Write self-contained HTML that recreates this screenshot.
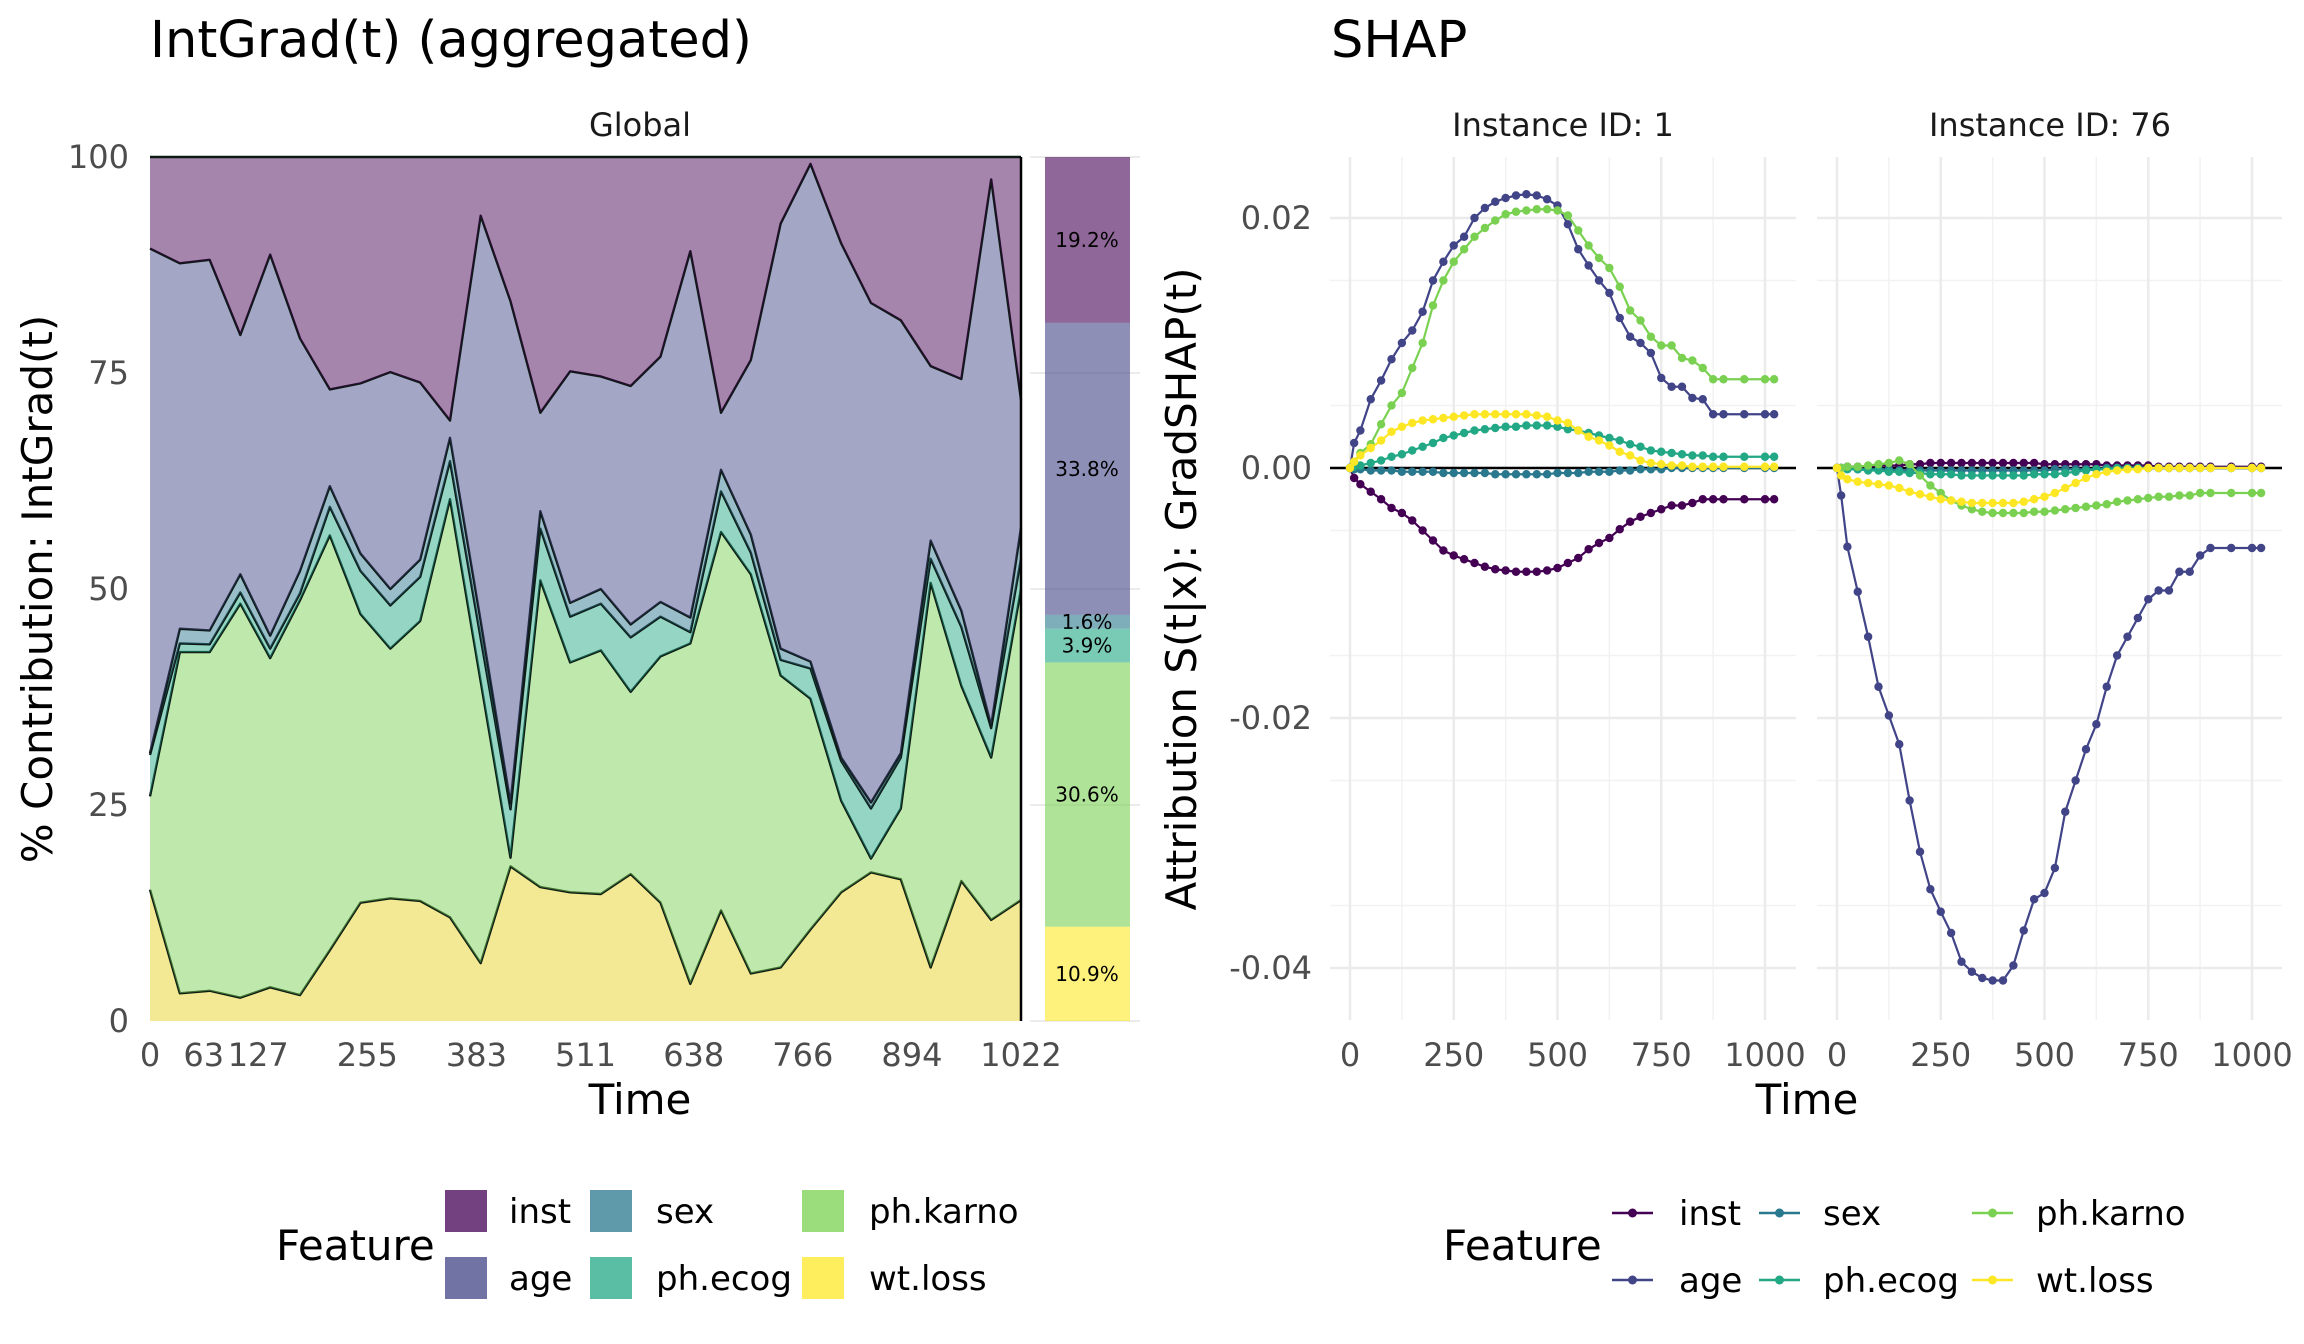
<!DOCTYPE html>
<html><head><meta charset="utf-8"><style>
html,body{margin:0;padding:0;background:#fff;}
svg{display:block;font-family:"DejaVu Sans","Liberation Sans",sans-serif;}
</style></head><body>
<svg id="chart" width="2304" height="1344" viewBox="0 0 2304 1344" xmlns="http://www.w3.org/2000/svg">
<text x="150" y="57" font-size="51" fill="#000">IntGrad(t) (aggregated)</text>
<text x="1331" y="57" font-size="51" fill="#000">SHAP</text>
<text x="640" y="136" font-size="32" text-anchor="middle" fill="#1a1a1a">Global</text>
<text x="1563" y="136" font-size="32" text-anchor="middle" fill="#1a1a1a">Instance ID: 1</text>
<text x="2050" y="136" font-size="32" text-anchor="middle" fill="#1a1a1a">Instance ID: 76</text>
<text transform="translate(52,589) rotate(-90)" font-size="42" text-anchor="middle" fill="#000">% Contribution: IntGrad(t)</text>
<text transform="translate(1196,589) rotate(-90)" font-size="42" text-anchor="middle" fill="#000">Attribution S(t|x): GradSHAP(t)</text>
<text x="640" y="1114" font-size="42" text-anchor="middle" fill="#000">Time</text>
<text x="1807" y="1114" font-size="42" text-anchor="middle" fill="#000">Time</text>
<g id="left"></g><g id="side"></g><g id="p1"></g><g id="p2"></g><g id="legend"></g>
</svg>
<script>
const NS="http://www.w3.org/2000/svg";
const features=["inst","age","sex","ph.ecog","ph.karno","wt.loss"];
const colors=["#440154","#414487","#2A788E","#22A884","#7AD151","#FDE725"];
// IntGrad stacked data (percent), 30 time points
const igTimes=[0,35,70,106,141,176,211,247,282,317,352,388,423,458,493,529,564,599,634,670,705,740,775,811,846,881,916,952,987,1022];
const igInst=[10.6,12.3,11.9,20.6,11.3,21.0,26.9,26.2,24.9,26.1,30.5,6.8,16.7,29.6,24.8,25.4,26.5,23.1,10.9,29.6,23.5,7.7,0.8,10.0,16.9,18.9,24.2,25.7,2.6,28.1];
const igAge=[58.4,42.3,42.9,27.7,44.1,26.9,11.2,19.7,25.1,20.5,2.0,46.9,58.1,11.4,26.8,24.6,27.6,28.4,42.4,6.6,20.2,49.2,57.6,59.5,57.8,50.1,20.2,26.8,63.2,14.8];
const igSex=[0.2,1.7,1.6,2.1,1.5,2.6,2.4,2.0,1.9,2.0,2.7,2.0,0.7,2.0,1.6,1.7,1.5,1.7,1.7,2.5,2.1,1.3,0.8,0.4,0.7,0.5,2.1,1.9,0.3,3.6];
const igEcog=[4.8,1.0,0.9,1.3,1.1,0.8,3.3,5.0,5.0,5.1,4.4,5.0,5.6,6.0,5.3,5.4,6.3,4.6,1.3,4.7,2.5,1.8,3.5,4.6,5.8,5.9,2.8,6.8,3.4,3.5];
const igKarno=[10.8,39.5,39.2,45.6,38.1,45.7,48.0,33.4,28.9,32.4,48.4,32.6,1.0,35.5,26.6,28.2,21.1,28.5,39.4,43.8,46.2,33.8,26.7,10.6,1.6,8.2,44.5,22.6,18.8,36.0];
const igWt=[15.2,3.2,3.5,2.7,3.9,3.0,8.2,13.7,14.2,13.9,12.0,6.7,17.9,15.5,14.9,14.7,17.0,13.7,4.3,12.8,5.5,6.2,10.6,14.9,17.2,16.4,6.2,16.2,11.7,14.0];
const igTicks=[0,63,127,255,383,511,638,766,894,1022];
const yTicksL=[0,25,50,75,100];
const sideVals=[19.2,33.8,1.6,3.9,30.6,10.9];
const sideLabels=["19.2%","33.8%","1.6%","3.9%","30.6%","10.9%"];
// SHAP data (values x 1e-3)
const shapTimes=[0,10,25,50,75,100,125,150,175,200,225,250,275,300,325,350,375,400,425,450,475,500,525,550,575,600,625,650,675,700,725,750,775,800,825,850,875,900,950,1000,1022];
const inst1=[0,-0.8,-1.3,-1.9,-2.5,-3.2,-3.6,-4.2,-5.0,-5.8,-6.6,-7.0,-7.3,-7.6,-7.9,-8.1,-8.2,-8.3,-8.3,-8.3,-8.2,-8.0,-7.6,-7.2,-6.5,-6.0,-5.6,-4.9,-4.3,-3.9,-3.6,-3.3,-3.0,-3.0,-2.8,-2.5,-2.5,-2.5,-2.5,-2.5,-2.5];
const age1=[0,2,3,5.5,7,8.7,10,11,12.5,15,16.5,17.8,18.5,20,20.8,21.3,21.6,21.8,21.9,21.8,21.5,21,19.5,17.5,16.2,15,14,12,10.5,10,9.2,7.2,6.5,6.5,5.6,5.5,4.3,4.3,4.3,4.3,4.3];
const sex1=[0,-0.1,-0.1,-0.2,-0.2,-0.2,-0.3,-0.3,-0.3,-0.3,-0.4,-0.4,-0.4,-0.4,-0.4,-0.5,-0.5,-0.5,-0.5,-0.5,-0.5,-0.4,-0.4,-0.4,-0.3,-0.3,-0.3,-0.2,-0.2,-0.1,-0.1,-0.1,0,0,0,0,0,0,0,0,0];
const ecog1=[0,0.1,0.2,0.4,0.6,0.9,1.1,1.4,1.7,2.0,2.4,2.6,2.8,3.0,3.1,3.2,3.3,3.3,3.4,3.4,3.4,3.3,3.1,3.0,2.8,2.6,2.4,2.2,1.9,1.7,1.4,1.3,1.2,1.1,1.0,1.0,0.9,0.9,0.9,0.9,0.9];
const karno1=[0,0.5,1.2,1.9,3.5,5,6,8,10,13,15,16.5,17.5,18.5,19.2,19.8,20.3,20.5,20.6,20.7,20.7,20.6,20.2,19,17.8,16.8,16,14.5,12.6,11.8,10.5,9.8,9.8,8.8,8.6,8,7.1,7.1,7.1,7.1,7.1];
const wt1=[0,0.5,1,1.6,2.2,2.9,3.3,3.6,3.8,3.9,4,4.1,4.2,4.3,4.3,4.3,4.3,4.3,4.3,4.2,4.1,3.8,3.6,3.0,2.5,2.2,1.8,1.3,1.0,0.6,0.4,0.3,0.2,0.2,0.1,0.1,0.1,0.1,0.1,0.1,0.1];
const inst76=[0,0,0.1,0.1,0.1,0.2,0.2,0.2,0.3,0.3,0.4,0.4,0.4,0.4,0.4,0.4,0.4,0.4,0.4,0.4,0.4,0.3,0.3,0.3,0.3,0.3,0.3,0.2,0.2,0.2,0.2,0.2,0.1,0.1,0.1,0.1,0.1,0.1,0.1,0.1,0.1];
const age76=[0,-2.2,-6.3,-9.9,-13.5,-17.5,-19.8,-22.1,-26.6,-30.7,-33.7,-35.5,-37.2,-39.5,-40.3,-40.8,-41.0,-41.0,-39.8,-37,-34.5,-34,-32,-27.5,-25,-22.5,-20.5,-17.5,-15,-13.5,-12,-10.5,-9.8,-9.8,-8.3,-8.3,-7,-6.4,-6.4,-6.4,-6.4];
const sex76=[0,0,0,-0.1,-0.1,-0.1,-0.1,-0.2,-0.2,-0.2,-0.2,-0.2,-0.2,-0.2,-0.2,-0.2,-0.2,-0.2,-0.2,-0.2,-0.2,-0.2,-0.1,-0.1,-0.1,-0.1,-0.1,0,0,0,0,0,0,0,0,0,0,0,0,0,0];
const ecog76=[0,0,-0.1,-0.1,-0.2,-0.2,-0.3,-0.3,-0.4,-0.4,-0.5,-0.5,-0.5,-0.6,-0.6,-0.6,-0.6,-0.6,-0.6,-0.6,-0.5,-0.5,-0.5,-0.4,-0.3,-0.2,-0.1,-0.1,0,0,0,0,0,0,0,0,0,0,0,0,0];
const karno76=[0,0,0.1,0.1,0.2,0.3,0.4,0.6,0.3,-0.6,-1.4,-2.0,-2.6,-3.0,-3.3,-3.5,-3.6,-3.6,-3.6,-3.6,-3.5,-3.5,-3.4,-3.3,-3.2,-3.1,-3.0,-2.9,-2.7,-2.6,-2.5,-2.4,-2.3,-2.3,-2.2,-2.2,-2.0,-2.0,-2.0,-2.0,-2.0];
const wt76=[0,-0.6,-0.9,-1.1,-1.2,-1.3,-1.4,-1.6,-1.9,-2.1,-2.3,-2.5,-2.6,-2.7,-2.8,-2.8,-2.8,-2.8,-2.8,-2.7,-2.5,-2.3,-2.0,-1.6,-1.2,-0.8,-0.5,-0.3,-0.2,-0.1,-0.1,0,0,0,0,0,0,0,0,0,0];
const shapXTicks=[0,250,500,750,1000];
const shapYTicks=[0.02,0,-0.02,-0.04];
const shapYLabels=["0.02","0.00","-0.02","-0.04"];

function mk(tag,attrs,parent){const e=document.createElementNS(NS,tag);for(const k in attrs)e.setAttribute(k,attrs[k]);parent.appendChild(e);return e;}

// ---- Left stacked area ----
const L={x0:150,x1:1021,y0:1021,y1:157};
const lx=t=>L.x0+(t-0)/(1022-0)*(L.x1-L.x0);
const ly=v=>L.y0-(v/100)*(L.y0-L.y1);
const gL=document.getElementById('left');
const series=[igWt,igKarno,igEcog,igSex,igAge,igInst];
const sColors=["#e6d220",colors[4],colors[3],colors[2],colors[1],colors[0]];
const sNames=["wt.loss","ph.karno","ph.ecog","sex","age","inst"];
let base=igTimes.map(()=>0);
series.forEach((s,si)=>{
  const top=base.map((b,i)=>b+s[i]);
  let d="M"+igTimes.map((t,i)=>lx(t)+","+ly(top[i])).join(" L");
  for(let i=igTimes.length-1;i>=0;i--) d+=" L"+lx(igTimes[i])+","+ly(base[i]);
  d+=" Z";
  const p=mk('path',{d:d,fill:sColors[si],'fill-opacity':0.48,stroke:'none'},gL);
  
  
  const ln=mk('polyline',{points:igTimes.map((t,i)=>lx(t)+","+ly(top[i])).join(" "),fill:'none',stroke:'#0d1a14','stroke-width':2.4,'stroke-linejoin':'round'},gL);
  
  
  base=top;
});
const vl=mk('line',{x1:L.x1,x2:L.x1,y1:L.y1,y2:L.y0,stroke:'#000','stroke-width':2.5},gL);


yTicksL.forEach(v=>{
  const t=mk('text',{x:129,y:ly(v)+11,'font-size':32,'text-anchor':'end',fill:'#4d4d4d'},gL);t.textContent=v;
  
  
});
igTicks.forEach(v=>{
  const t=mk('text',{x:lx(v),y:1066,'font-size':32,'text-anchor':'middle',fill:'#4d4d4d'},gL);t.textContent=v;
  
  
});
// side bar
const gS=document.getElementById('side');
[0,25,50,75,100].forEach(v=>{mk('line',{x1:1030,x2:1140,y1:ly(v),y2:ly(v),stroke:'#ebebeb','stroke-width':2},gS);});
let acc=100;
sideVals.forEach((v,i)=>{
  const yTop=ly(acc),yBot=ly(acc-v);
  const r=mk('rect',{x:1045,y:yTop,width:85,height:yBot-yTop,fill:colors[i],'fill-opacity':0.6},gS);
  
  
  const t=mk('text',{x:1087,y:(yTop+yBot)/2+7,'font-size':20,'text-anchor':'middle',fill:'#000'},gS);
  t.textContent=sideLabels[i];
  
  
  acc-=v;
});

// ---- SHAP panels ----
const sy=v=>468-(v/0.02)*(468-218);
function panel(gid,ax0,ax1,dx0,dx1,data){
  const g=document.getElementById(gid);
  const sx=t=>dx0+t/1000*(dx1-dx0);
  for(let v=-0.045;v<=0.0251;v+=0.01){ if(sy(v)>157&&sy(v)<1020) mk('line',{x1:ax0,x2:ax1,y1:sy(v),y2:sy(v),stroke:'#f2f2f2','stroke-width':1.5},g);}
  [125,375,625,875].forEach(t=>mk('line',{x1:sx(t),x2:sx(t),y1:157,y2:1020,stroke:'#f2f2f2','stroke-width':1.5},g));
  shapYTicks.forEach(v=>mk('line',{x1:ax0,x2:ax1,y1:sy(v),y2:sy(v),stroke:'#ebebeb','stroke-width':2.5},g));
  shapXTicks.forEach(t=>mk('line',{x1:sx(t),x2:sx(t),y1:157,y2:1020,stroke:'#ebebeb','stroke-width':2.5},g));
  shapXTicks.forEach(t=>{const e=mk('text',{x:sx(t),y:1066,'font-size':32,'text-anchor':'middle',fill:'#4d4d4d'},g);e.textContent=t;
    
    });
  const z=mk('line',{x1:ax0,x2:ax1,y1:sy(0),y2:sy(0),stroke:'#000','stroke-width':2.5},g);
  
  
  data.forEach((s,si)=>{
    const pl=mk('polyline',{points:shapTimes.map((t,i)=>sx(t)+","+sy(s[i]/1000)).join(" "),fill:'none',stroke:colors[si],'stroke-width':2.2},g);
    
    
    shapTimes.forEach((t,i)=>{const c=mk('circle',{cx:sx(t),cy:sy(s[i]/1000),r:4.2,fill:colors[si]},g);
      
      });
  });
}
panel('p1',1330,1796,1350,1765,[inst1,age1,sex1,ecog1,karno1,wt1]);
panel('p2',1817,2282,1837,2252,[inst76,age76,sex76,ecog76,karno76,wt76]);
const gp=document.getElementById('p1');
shapYTicks.forEach((v,i)=>{const e=mk('text',{x:1312,y:sy(v)+11,'font-size':32,'text-anchor':'end',fill:'#4d4d4d'},gp);e.textContent=shapYLabels[i];
  
  });

// ---- Legends ----
const gLg=document.getElementById('legend');
const legPos=[[445,1190],[445,1257],[590,1190],[590,1257],[802,1190],[802,1257]];
const legLab=[[509],[509],[656],[656],[869],[869]];
const rPos=[[1612,1213],[1612,1280],[1759,1213],[1759,1280],[1972,1213],[1972,1280]];
const rLab=[1679,1679,1823,1823,2036,2036];
const ft1=mk('text',{x:276,y:1260,'font-size':42,fill:'#000'},gLg);ft1.textContent="Feature";


const ft2=mk('text',{x:1443,y:1260,'font-size':42,fill:'#000'},gLg);ft2.textContent="Feature";


features.forEach((f,i)=>{
  const r=mk('rect',{x:legPos[i][0],y:legPos[i][1],width:42,height:42,fill:colors[i],'fill-opacity':0.75},gLg);
  
  
  const t=mk('text',{x:legLab[i][0],y:legPos[i][1]+33,'font-size':34,fill:'#000'},gLg);t.textContent=f;
  
  
  const l=mk('line',{x1:rPos[i][0],x2:rPos[i][0]+41,y1:rPos[i][1],y2:rPos[i][1],stroke:colors[i],'stroke-width':2.5},gLg);
  
  
  mk('circle',{cx:rPos[i][0]+20.5,cy:rPos[i][1],r:4.5,fill:colors[i]},gLg);
  const t2=mk('text',{x:rLab[i],y:rPos[i][1]+12,'font-size':34,fill:'#000'},gLg);t2.textContent=f;
  
  
});
</script>
</body></html>
